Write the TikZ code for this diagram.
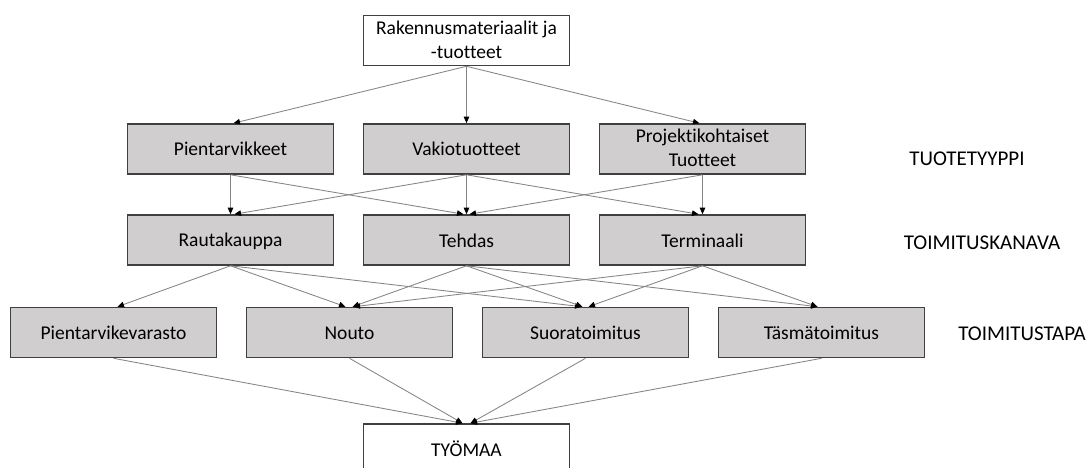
\documentclass[tikz,border=0pt]{standalone}
\usepackage{fontspec}
\setmainfont{Carlito}[Ligatures=NoCommon]
\usetikzlibrary{arrows.meta}
\definecolor{boxfill}{HTML}{D0CECE}
\definecolor{boxline}{HTML}{404040}
\definecolor{arrline}{HTML}{858585}
\newcommand{\topstrut}{\rule{0pt}{16pt}}
\newcommand{\botstrut}{\rule[-2pt]{0pt}{2pt}}
\tikzset{
  gbox/.style={draw=boxline, fill=boxfill, line width=1.6pt, minimum width=206pt, minimum height=50pt, inner sep=0pt, align=center, font=\fontsize{19.5}{24}\selectfont, execute at begin node={\topstrut}, execute at end node={\botstrut}},
  wbox/.style={gbox, fill=white},
  lvl/.style={font=\fontsize{21}{24}\selectfont, inner sep=0pt, execute at begin node={\topstrut}, execute at end node={\botstrut}},
  arr/.style={draw=arrline, line width=0.85pt, -{Triangle[black,length=6.5pt,width=5.5pt]}}
}
\begin{document}
\begin{tikzpicture}[x=1pt,y=-1pt]
\clip (0,0) rectangle (1090,468);
\fill[white] (0,0) rectangle (1090,468);
% nodes
\node[wbox] (top) at (466.5,40.5) {Rakennusmateriaalit ja\\-tuotteet};
\node[gbox] (p1) at (230.5,149) {Pientarvikkeet};
\node[gbox] (p2) at (466.5,149) {Vakiotuotteet};
\node[gbox] (p3) at (702.5,149) {Projektikohtaiset\\Tuotteet};
\node[gbox] (c1) at (230.5,240) {Rautakauppa};
\node[gbox] (c2) at (466.5,240) {Tehdas};
\node[gbox] (c3) at (702.5,240) {Terminaali};
\node[gbox] (m1) at (113.5,332.5) {Pientarvikevarasto};
\node[gbox] (m2) at (349.5,332.5) {Nouto};
\node[gbox] (m3) at (585.5,332.5) {Suoratoimitus};
\node[gbox] (m4) at (821.5,332.5) {Täsmätoimitus};
\node[wbox] (w) at (466.5,449) {TYÖMAA};
\node[lvl] (l1) at (967,158) {TUOTETYYPPI};
\node[lvl] (l2) at (982,242) {TOIMITUSKANAVA};
\node[lvl] (l3) at (1022,333) {TOIMITUSTAPA};
% connectors
\draw[arr] (top.south) -- ([xshift=3pt]p1.north);
\draw[arr] (top.south) -- (p2.north);
\draw[arr] (top.south) -- ([xshift=-3pt]p3.north);
\draw[arr] (p1.south) -- (c1.north);
\draw[arr] (p1.south) -- ([xshift=-3pt]c2.north);
\draw[arr] (p2.south) -- ([xshift=4pt]c1.north);
\draw[arr] (p2.south) -- (c2.north);
\draw[arr] (p2.south) -- ([xshift=-4pt]c3.north);
\draw[arr] (p3.south) -- ([xshift=3pt]c2.north);
\draw[arr] (p3.south) -- (c3.north);
\draw[arr] (c1.south) -- ([xshift=4pt]m1.north);
\draw[arr] (c1.south) -- ([xshift=-4pt]m2.north);
\draw[arr] (c1.south) -- ([xshift=-4pt]m3.north);
\draw[arr] (c2.south) -- ([xshift=3pt]m2.north);
\draw[arr] (c2.south) -- ([xshift=-3pt]m3.north);
\draw[arr] (c2.south) -- ([xshift=-4pt]m4.north);
\draw[arr] (c3.south) -- ([xshift=4pt]m2.north);
\draw[arr] (c3.south) -- ([xshift=3pt]m3.north);
\draw[arr] (c3.south) -- ([xshift=-4pt]m4.north);
\draw[arr] (m1.south) -- ([xshift=-4pt]w.north);
\draw[arr] (m2.south) -- ([xshift=-4pt]w.north);
\draw[arr] (m3.south) -- ([xshift=4pt]w.north);
\draw[arr] (m4.south) -- ([xshift=4pt]w.north);
\end{tikzpicture}
\end{document}
